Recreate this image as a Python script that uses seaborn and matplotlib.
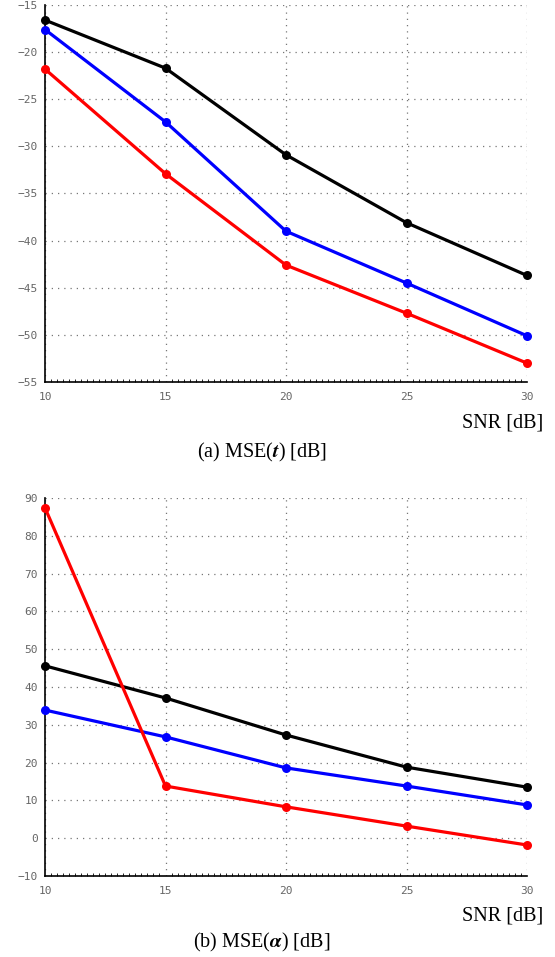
import numpy as np
import pandas as pd
import matplotlib
matplotlib.use("Agg")
import matplotlib.pyplot as plt
from matplotlib.ticker import MultipleLocator
import seaborn as sns

snr = [10, 15, 20, 25, 30]
series = ["black", "blue", "red"]

mse_t_black = [-16.6, -21.7, -30.9, -38.1, -43.7]
mse_t_blue = [-17.6, -27.4, -39.0, -44.5, -50.1]
mse_t_red = [-21.8, -32.9, -42.6, -47.7, -53.0]

mse_a_black = [45.6, 37.1, 27.3, 18.8, 13.5]
mse_a_blue = [33.9, 26.8, 18.6, 13.8, 8.8]
mse_a_red = [87.4, 13.8, 8.3, 3.2, -1.8]

yticks_a = [-55, -50, -45, -40, -35, -30, -25, -20, -15]
yticks_b = [-10, 0, 10, 20, 30, 40, 50, 60, 70, 80, 90]
xticks = [10, 15, 20, 25, 30]

sns.set_theme(style="white")
plt.rcParams["mathtext.fontset"] = "stix"
plt.rcParams["font.family"] = ["DejaVu Sans Mono"]

def long_df(vals):
    rows = []
    for s, v in zip(series, vals):
        for x, y in zip(snr, v):
            rows.append({"snr": x, "mse": y, "series": s})
    return pd.DataFrame(rows)

W, H = 555, 957
fig = plt.figure(figsize=(W / 100, H / 100), dpi=100)

def make_axes(top, bottom):
    l, r = 45, 527
    return fig.add_axes([l / W, 1 - bottom / H, (r - l) / W, (bottom - top) / H])

ax1 = make_axes(5, 382)
ax2 = make_axes(498, 876)

palette = {"black": "#000000", "blue": "#0000ff", "red": "#ff0000"}

for ax, vals, yt, cap, snr_base, cap_base in [
    (ax1, [mse_t_black, mse_t_blue, mse_t_red], yticks_a, r"(a) MSE($\mathbfit{t}$) [dB]", 427, 457),
    (ax2, [mse_a_black, mse_a_blue, mse_a_red], yticks_b, r"(b) MSE($\mathbfit{\alpha}$) [dB]", 921, 947),
]:
    df = long_df(vals)
    sns.lineplot(data=df, x="snr", y="mse", hue="series", palette=palette,
                 marker="o", markersize=6.5, markeredgewidth=0, linewidth=2.3,
                 legend=False, ax=ax, clip_on=False, zorder=5)
    ax.set_xlim(10, 30)
    ax.set_ylim(yt[0], yt[-1])
    ax.set_xticks(xticks)
    ax.set_yticks(yt)
    ax.xaxis.set_minor_locator(MultipleLocator(0.25))
    ax.set_xlabel("")
    ax.set_ylabel("")
    for s in ["top", "right"]:
        ax.spines[s].set_visible(False)
    for s in ["left", "bottom"]:
        ax.spines[s].set_color("black")
        ax.spines[s].set_linewidth(1.2)
    ax.grid(True, which="major", linestyle=(0, (1, 4)), color="#777777", linewidth=0.9)
    ax.tick_params(axis="both", which="major", direction="in", length=4, width=0.8,
                   labelsize=8, labelcolor="#666666", color="black")
    ax.tick_params(axis="y", which="major", pad=5)
    ax.tick_params(axis="x", which="major", pad=7)
    ax.tick_params(axis="x", which="minor", direction="in", length=2, width=0.6,
                   color="black", bottom=True)
    fig.text(543 / W, 1 - snr_base / H, "SNR [dB]", ha="right", va="baseline",
             fontsize=14.5, family="Liberation Serif", color="black")
    fig.text(262 / W, 1 - cap_base / H, cap, ha="center", va="baseline",
             fontsize=14.5, family="Liberation Serif", color="black")

fig.savefig("out.png", dpi=100)
